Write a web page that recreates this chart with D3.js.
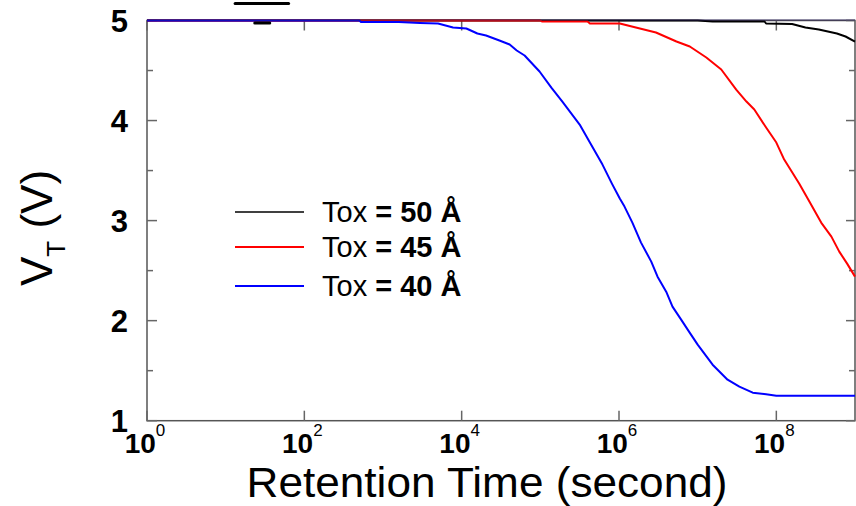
<!DOCTYPE html>
<html>
<head>
<meta charset="utf-8">
<script src="https://cdn.jsdelivr.net/npm/d3@7"></script>
<style>
  html, body { margin: 0; padding: 0; background: #fff; }
  svg { display: block; }
  text { font-family: "Liberation Sans", Arial, sans-serif; }
</style>
</head>
<body>
<svg id="chart" width="856" height="506"></svg>
<script>
// ---- data (time as log10 exponent, seconds; VT in volts) ----
const seriesNames = ["Tox = 50 Å", "Tox = 45 Å", "Tox = 40 Å"];
const seriesColors = ["#000000", "#ff0000", "#0000ff"];

const logT50 = [0, 7.0, 7.19, 7.85, 7.87, 8.2, 8.37, 8.54, 8.77, 8.88, 9.0];
const vt50   = [5, 5, 4.99, 4.99, 4.97, 4.965, 4.93, 4.91, 4.87, 4.84, 4.79];

const logT45 = [0, 5.0, 5.02, 5.6, 5.63, 6.01, 6.47, 6.73, 6.9, 7.11, 7.30, 7.49, 7.62, 7.72, 7.87, 8.0, 8.10, 8.29, 8.42, 8.57, 8.70, 8.80, 8.90, 9.0];
const vt45   = [5, 5, 4.99, 4.99, 4.97, 4.97, 4.88, 4.79, 4.74, 4.63, 4.51, 4.31, 4.19, 4.11, 3.93, 3.78, 3.61, 3.37, 3.19, 2.98, 2.84, 2.69, 2.57, 2.44];

const logT40 = [0, 2.70, 2.72, 3.2, 3.47, 3.70, 3.89, 4.06, 4.20, 4.31, 4.48, 4.61, 4.70, 4.80, 4.99, 5.14, 5.28, 5.50, 5.63, 5.79, 5.91, 6.01, 6.07, 6.17, 6.28, 6.41, 6.49, 6.60, 6.68, 6.79, 6.89, 7.0, 7.19, 7.38, 7.53, 7.70, 7.87, 8.0, 9.0];
const vt40   = [5, 5, 4.985, 4.985, 4.975, 4.97, 4.93, 4.92, 4.87, 4.85, 4.80, 4.76, 4.70, 4.65, 4.49, 4.33, 4.19, 3.96, 3.78, 3.56, 3.37, 3.22, 3.14, 2.98, 2.78, 2.59, 2.44, 2.29, 2.14, 2.01, 1.89, 1.76, 1.56, 1.41, 1.34, 1.28, 1.265, 1.25, 1.25];

const xTickExps = [0, 2, 4, 6, 8];
const yTickMajor = [1, 2, 3, 4, 5];
const yTickMinor = [1.5, 2.5, 3.5, 4.5];

const xTitle = "Retention Time (second)";

// ---- layout ----
const svg = d3.select("#chart");
const pLeft = 147, pRight = 855, pTop = 20.5, pBottom = 420.7;

const x = d3.scaleLog().domain([1, 1e9]).range([pLeft, pRight]);
const y = d3.scaleLinear().domain([1, 5]).range([pBottom, pTop]);

const series = [
  { name: seriesNames[0], color: seriesColors[0], pts: logT50.map((e, i) => [Math.pow(10, e), vt50[i]]) },
  { name: seriesNames[1], color: seriesColors[1], pts: logT45.map((e, i) => [Math.pow(10, e), vt45[i]]) },
  { name: seriesNames[2], color: seriesColors[2], pts: logT40.map((e, i) => [Math.pow(10, e), vt40[i]]) }
];

// frame
const frameColor = "#555";
svg.append("rect")
  .attr("x", pLeft).attr("y", pTop)
  .attr("width", pRight - pLeft).attr("height", pBottom - pTop)
  .attr("fill", "none").attr("stroke", frameColor).attr("stroke-width", 1.5);

// ticks: x (bottom and top, inward)
const tickG = svg.append("g").attr("stroke", "#666").attr("stroke-width", 1.5);
xTickExps.forEach(e => {
  const px = x(Math.pow(10, e));
  tickG.append("line").attr("x1", px).attr("x2", px).attr("y1", pBottom).attr("y2", pBottom - 10);
  tickG.append("line").attr("x1", px).attr("x2", px).attr("y1", pTop).attr("y2", pTop + 10);
});
// ticks: y (left and right, inward)
yTickMajor.forEach(v => {
  const py = y(v);
  tickG.append("line").attr("x1", pLeft).attr("x2", pLeft + 10).attr("y1", py).attr("y2", py);
  tickG.append("line").attr("x1", pRight).attr("x2", pRight - 9).attr("y1", py).attr("y2", py);
});
yTickMinor.forEach(v => {
  const py = y(v);
  tickG.append("line").attr("x1", pLeft).attr("x2", pLeft + 6).attr("y1", py).attr("y2", py);
  tickG.append("line").attr("x1", pRight).attr("x2", pRight - 6).attr("y1", py).attr("y2", py);
});

// curves
const line = d3.line().x(d => x(d[0])).y(d => y(d[1]));
series.forEach(s => {
  svg.append("path")
    .datum(s.pts)
    .attr("d", line)
    .attr("fill", "none")
    .attr("stroke", s.color)
    .attr("stroke-width", 2)
    .attr("stroke-linejoin", "round");
});
// thin dark frame top edge drawn over the curves (as in the original)
svg.append("line")
  .attr("x1", pLeft).attr("x2", pRight).attr("y1", pTop - 0.5).attr("y2", pTop - 0.5)
  .attr("stroke", "#2a1f5a").attr("stroke-width", 1.2).attr("opacity", 0.8);

// y tick labels
yTickMajor.forEach(v => {
  svg.append("text")
    .attr("x", 128).attr("y", y(v) + 11)
    .attr("text-anchor", "end")
    .attr("font-size", 31).attr("font-weight", "bold")
    .attr("fill", "#000")
    .text(v);
});

// x tick labels 10^n
xTickExps.forEach(e => {
  const t = svg.append("text")
    .attr("x", x(Math.pow(10, e)) - 2).attr("y", 453)
    .attr("text-anchor", "middle")
    .attr("font-size", 28).attr("font-weight", "bold")
    .attr("fill", "#000");
  t.append("tspan").text("10");
  t.append("tspan").attr("dy", -17).attr("font-size", 17).attr("font-weight", "normal").text(e);
});

// axis titles
svg.append("text")
  .attr("x", 487).attr("y", 497)
  .attr("text-anchor", "middle")
  .attr("font-size", 42)
  .attr("textLength", 481)
  .attr("lengthAdjust", "spacingAndGlyphs")
  .attr("fill", "#000")
  .text(xTitle);

const yl = svg.append("text")
  .attr("transform", "translate(52,228) rotate(-90)")
  .attr("text-anchor", "middle")
  .attr("font-size", 44)
  .attr("fill", "#000");
yl.append("tspan").text("V");
yl.append("tspan").attr("font-size", 26).attr("dy", 13).text("T");
yl.append("tspan").attr("dy", -13).text(" (V)");

// legend
const legY = [212, 247, 286];
series.forEach((s, i) => {
  svg.append("line")
    .attr("x1", 235).attr("x2", 304)
    .attr("y1", legY[i]).attr("y2", legY[i])
    .attr("stroke", s.color).attr("stroke-width", i === 0 ? 1.6 : 2);
  const t = svg.append("text")
    .attr("x", 322).attr("y", legY[i] + 10)
    .attr("font-size", 29).attr("fill", "#000");
  const parts = s.name.split(" = ");
  t.append("tspan").text(parts[0] + " ");
  t.append("tspan").attr("font-weight", "bold").text("= " + parts[1]);
});

// small stray marks seen in the original figure (positioned in data units)
const strayMarks = [
  { e0: 1.12, e1: 1.80, v: 5.17 },
  { e0: 1.37, e1: 1.56, v: 4.975 }
];
strayMarks.forEach(m => {
  svg.append("line")
    .attr("x1", x(Math.pow(10, m.e0))).attr("x2", x(Math.pow(10, m.e1)))
    .attr("y1", y(m.v)).attr("y2", y(m.v))
    .attr("stroke", "#000").attr("stroke-width", 3).attr("stroke-linecap", "round");
});
</script>
</body>
</html>
